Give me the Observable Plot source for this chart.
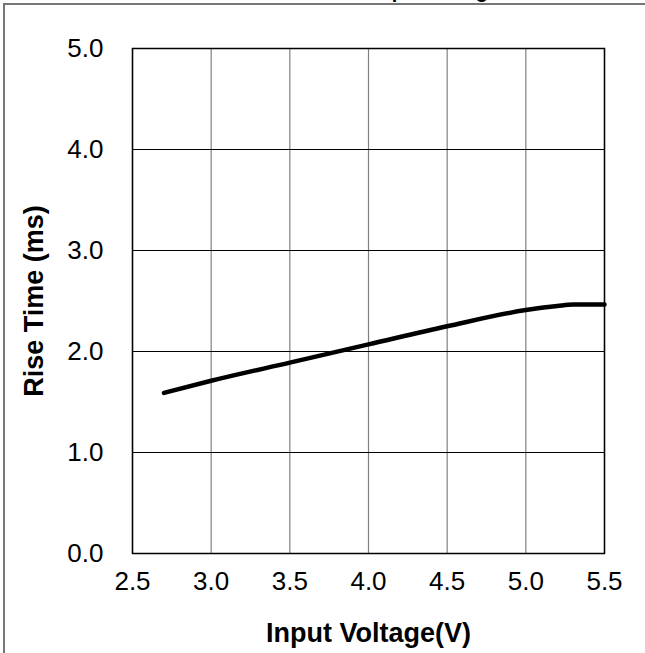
<!DOCTYPE html>
<html>
<head>
<meta charset="utf-8">
<script src="https://cdn.jsdelivr.net/npm/d3@7"></script>
<script src="https://cdn.jsdelivr.net/npm/@observablehq/plot@0.6"></script>
<style>
  html, body { margin: 0; padding: 0; background: #fff; }
  #wrap { position: relative; width: 645px; height: 653px; overflow: hidden; font-family: "Liberation Sans", Arial, sans-serif; }
  #outer { position: absolute; left: 3px; top: 3px; width: 700px; height: 700px; border-left: 2px solid #777; border-top: 2px solid #777; }
  #title { position: absolute; left: 0; width: 740px; text-align: center; top: -20px; font-weight: bold; font-size: 20px; color: #000; }
  #chart { position: absolute; left: 0; top: 0; }
</style>
</head>
<body>
<div id="wrap">
  <div id="outer"></div>
  <div id="title">Rise Time vs. Input Voltage</div>
  <div id="chart"></div>
</div>
<script>
const voltage = [2.7, 3.0, 3.5, 4.0, 4.5, 5.0, 5.2, 5.3, 5.4, 5.5];
const riseTime = [1.59, 1.71, 1.89, 2.07, 2.25, 2.41, 2.45, 2.465, 2.465, 2.465];
const xTicks = [2.5, 3.0, 3.5, 4.0, 4.5, 5.0, 5.5];
const yTicks = [0, 1, 2, 3, 4, 5];
const xLabel = "Input Voltage(V)";
const yLabel = "Rise Time (ms)";

const data = voltage.map((v, i) => ({v, t: riseTime[i]}));

const chart = Plot.plot({
  width: 645,
  height: 653,
  marginLeft: 132,
  marginRight: 41,
  marginTop: 48,
  marginBottom: 100,
  style: {fontFamily: "'Liberation Sans', Arial, sans-serif", fontSize: "26px", background: "transparent", overflow: "visible"},
  x: {domain: [2.5, 5.5]},
  y: {domain: [0, 5]},
  marks: [
    Plot.ruleX(xTicks, {stroke: "#808080", strokeWidth: 1.2}),
    Plot.ruleY(yTicks, {stroke: "#000", strokeWidth: 1}),
    Plot.frame({stroke: "#000", strokeWidth: 1.5}),
    Plot.axisX(xTicks, {tickSize: 0, tickPadding: 18, tickFormat: d => d.toFixed(1), fontSize: 26, fill: "#000", label: null}),
    Plot.axisY(yTicks, {tickSize: 0, tickPadding: 29, tickFormat: d => d.toFixed(1), fontSize: 26, fill: "#000", label: null}),
    Plot.text([xLabel], {frameAnchor: "bottom", textAnchor: "middle", lineAnchor: "middle", dy: 80, fontWeight: "bold", fontSize: 27, fill: "#000"}),
    Plot.text([yLabel], {frameAnchor: "left", textAnchor: "middle", lineAnchor: "middle", dx: -98, dy: 0, rotate: -90, fontWeight: "bold", fontSize: 27, fill: "#000"}),
    Plot.line(data, {x: "v", y: "t", stroke: "#000", strokeWidth: 4.5, curve: "monotone-x"})
  ]
});
document.getElementById("chart").appendChild(chart);
</script>
</body>
</html>
